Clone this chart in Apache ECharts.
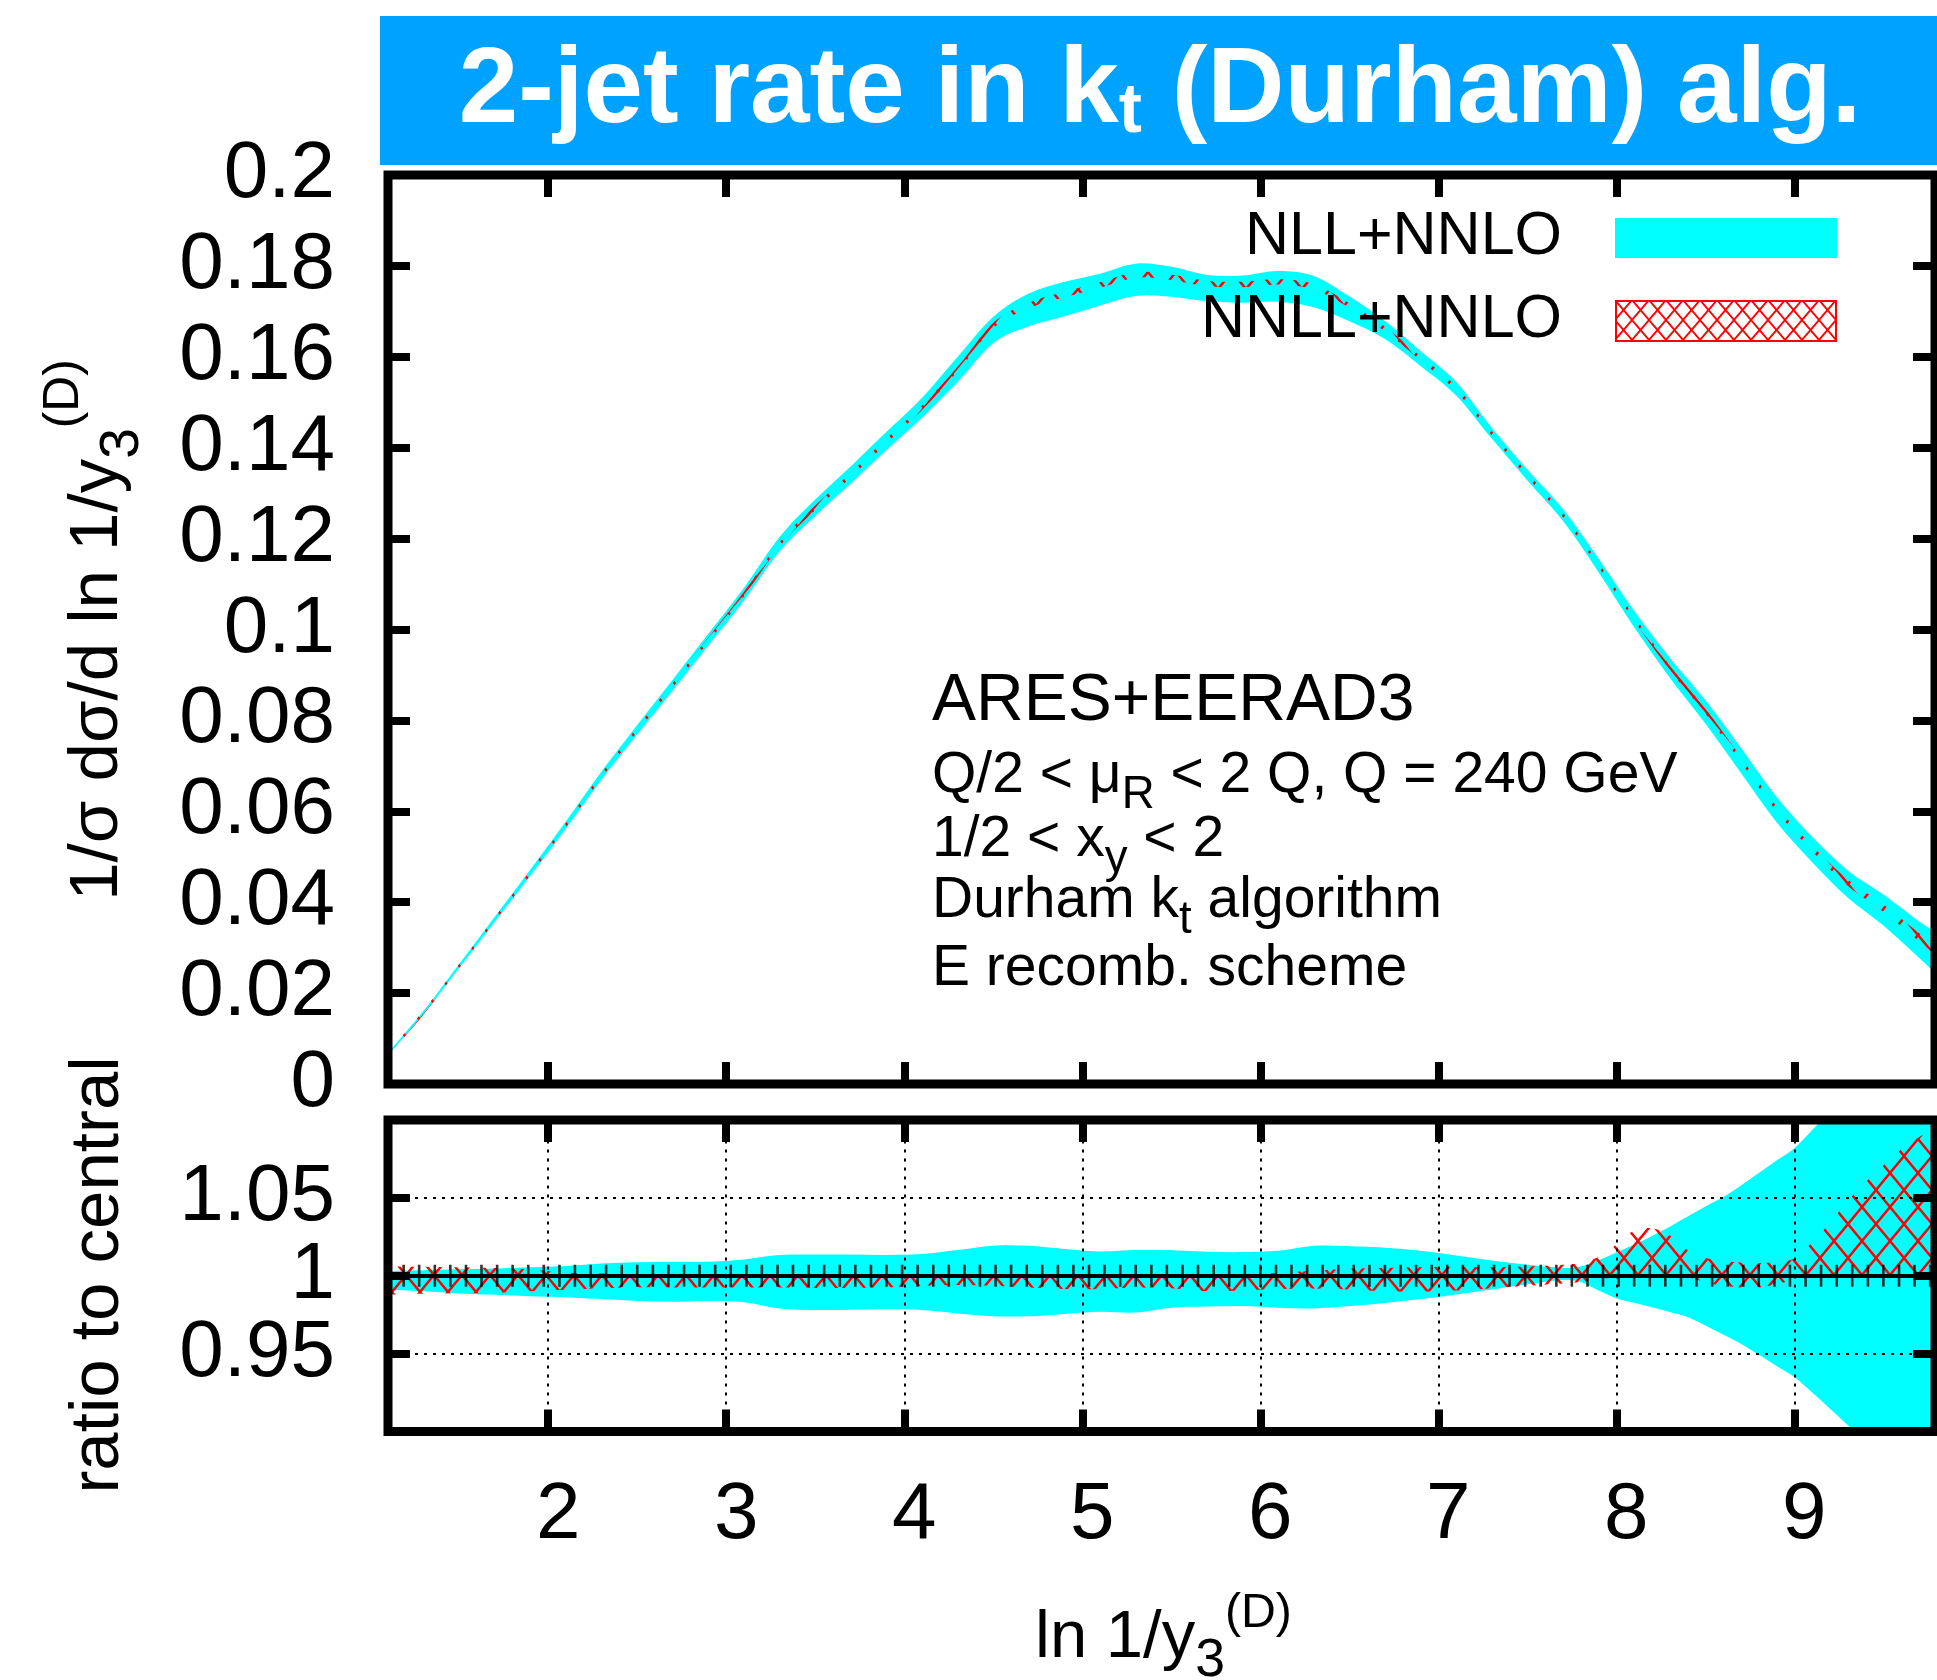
<!DOCTYPE html>
<html>
<head>
<meta charset="utf-8">
<script src="https://cdn.jsdelivr.net/npm/echarts@6/dist/echarts.min.js"></script>
<style>
  html, body { margin: 0; padding: 0; background: #fff; }
  #main { width: 1937px; height: 1680px; }
</style>
</head>
<body>
<div id="main"></div>
<script>
// ---- data ----
// upper panel: 1/sigma dsigma/d ln 1/y3 bands
const xTop = [1.1, 1.3, 1.5, 1.7, 1.9, 2.1, 2.3, 2.5, 2.7, 2.9, 3.1, 3.3, 3.5, 3.7, 3.9, 4.1, 4.3, 4.5, 4.7, 4.9,
  5.1, 5.3, 5.5, 5.7, 5.9, 6.1, 6.3, 6.5, 6.7, 6.9, 7.1, 7.3, 7.5, 7.7, 7.9, 8.1, 8.3, 8.5, 8.7, 8.9,
  9.1, 9.3, 9.5, 9.7, 9.79];
const nllTopLo = [0.0063, 0.0154, 0.0255, 0.0357, 0.0458, 0.0562, 0.0670, 0.0769, 0.0866, 0.0965, 0.1064, 0.1172,
  0.1250, 0.1321, 0.1395, 0.1466, 0.1545, 0.1630, 0.1667, 0.1689, 0.1713, 0.1734, 0.1732, 0.1722, 0.1719,
  0.1721, 0.1709, 0.1678, 0.1639, 0.1580, 0.1515, 0.1420, 0.1328, 0.1239, 0.1126, 0.1005, 0.0894, 0.0793,
  0.0684, 0.0576, 0.0488, 0.0410, 0.0349, 0.0278, 0.0245];
const nllTopHi = [0.0068, 0.0161, 0.0264, 0.0368, 0.0472, 0.0578, 0.0688, 0.0790, 0.0890, 0.0991, 0.1092, 0.1204,
  0.1286, 0.1359, 0.1435, 0.1510, 0.1600, 0.1688, 0.1739, 0.1765, 0.1783, 0.1805, 0.1798, 0.1780, 0.1779,
  0.1789, 0.1778, 0.1733, 0.1679, 0.1613, 0.1545, 0.1444, 0.1352, 0.1265, 0.1156, 0.1041, 0.0938, 0.0845,
  0.0740, 0.0632, 0.0544, 0.0470, 0.0417, 0.0358, 0.0335];
const nnllTopLo = [0.0062, 0.0153, 0.0255, 0.0358, 0.0460, 0.0565, 0.0674, 0.0775, 0.0873, 0.0973, 0.1073, 0.1183,
  0.1263, 0.1335, 0.1410, 0.1483, 0.1568, 0.1663, 0.1707, 0.1731, 0.1752, 0.1774, 0.1769, 0.1755, 0.1753,
  0.1759, 0.1748, 0.1708, 0.1656, 0.1592, 0.1525, 0.1427, 0.1335, 0.1247, 0.1137, 0.1019, 0.0911, 0.0815,
  0.0708, 0.0600, 0.0512, 0.0436, 0.0379, 0.0314, 0.0285];
const nnllTopHi = [0.0069, 0.0162, 0.0264, 0.0367, 0.0470, 0.0575, 0.0684, 0.0785, 0.0883, 0.0983, 0.1083, 0.1193,
  0.1273, 0.1345, 0.1420, 0.1493, 0.1578, 0.1675, 0.1719, 0.1743, 0.1764, 0.1786, 0.1781, 0.1767, 0.1765,
  0.1771, 0.1760, 0.1718, 0.1666, 0.1601, 0.1535, 0.1437, 0.1345, 0.1257, 0.1147, 0.1029, 0.0921, 0.0826,
  0.0719, 0.0611, 0.0524, 0.0450, 0.0395, 0.0332, 0.0305];

// lower panel: ratio to central
const xRatio = [1.1, 1.3, 1.5, 1.7, 1.9, 2.1, 2.3, 2.5, 2.7, 2.9, 3.1, 3.3, 3.5, 3.7, 3.9, 4.1, 4.3, 4.5, 4.7, 4.9,
  5.1, 5.3, 5.5, 5.7, 5.9, 6.1, 6.3, 6.5, 6.7, 6.9, 7.1, 7.3, 7.5, 7.7, 7.8, 7.9, 8.0, 8.1, 8.2, 8.3,
  8.4, 8.5, 8.6, 8.7, 8.8, 8.9, 9.0, 9.1, 9.2, 9.3, 9.4, 9.5, 9.6, 9.7, 9.79];
const nllRatioHi = [1.0030, 1.0035, 1.0041, 1.0047, 1.0055, 1.0063, 1.0078, 1.0086, 1.0090, 1.0090, 1.0105, 1.0133,
  1.0137, 1.0136, 1.0134, 1.0140, 1.0165, 1.0193, 1.0192, 1.0172, 1.0156, 1.0165, 1.0163, 1.0154, 1.0152,
  1.0160, 1.0193, 1.0190, 1.0180, 1.0160, 1.0130, 1.0098, 1.0070, 1.0050, 1.0060, 1.0100, 1.0150, 1.0200,
  1.0255, 1.0315, 1.0380, 1.0445, 1.0505, 1.0580, 1.0660, 1.0740, 1.0818, 1.0935, 1.1050, 1.1160, 1.1270,
  1.1380, 1.1490, 1.1600, 1.1700];
const nllRatioLo = [0.9910, 0.9900, 0.9886, 0.9878, 0.9868, 0.9862, 0.9850, 0.9838, 0.9833, 0.9838, 0.9830, 0.9790,
  0.9780, 0.9782, 0.9785, 0.9780, 0.9758, 0.9740, 0.9740, 0.9755, 0.9769, 0.9764, 0.9795, 0.9802, 0.9805,
  0.9795, 0.9790, 0.9805, 0.9825, 0.9850, 0.9880, 0.9912, 0.9945, 0.9972, 0.9960, 0.9905, 0.9856, 0.9826,
  0.9797, 0.9767, 0.9735, 0.9680, 0.9622, 0.9563, 0.9492, 0.9421, 0.9350, 0.9250, 0.9146, 0.9040, 0.8920,
  0.8800, 0.8680, 0.8560, 0.8450];
const nnllRatioHi = [1.0060, 1.0058, 1.0055, 1.0050, 1.0040, 1.0020, 1.0015, 1.0005, 1.0000, 0.9998, 0.9995, 0.9995,
  0.9995, 0.9995, 0.9995, 0.9995, 0.9995, 0.9995, 0.9998, 1.0005, 1.0010, 1.0005, 0.9998, 0.9995, 1.0000,
  1.0020, 1.0030, 1.0045, 1.0050, 1.0055, 1.0058, 1.0055, 1.0060, 1.0070, 1.0085, 1.0120, 1.0200, 1.0290,
  1.0305, 1.0260, 1.0165, 1.0115, 1.0095, 1.0085, 1.0080, 1.0090, 1.0110, 1.0215, 1.0340, 1.0480, 1.0600,
  1.0710, 1.0810, 1.0890, 1.0935];
const nnllRatioLo = [0.9880, 0.9885, 0.9888, 0.9890, 0.9900, 0.9910, 0.9920, 0.9925, 0.9925, 0.9925, 0.9925, 0.9925,
  0.9922, 0.9922, 0.9925, 0.9935, 0.9940, 0.9935, 0.9925, 0.9915, 0.9915, 0.9925, 0.9920, 0.9900, 0.9905,
  0.9915, 0.9918, 0.9912, 0.9900, 0.9898, 0.9905, 0.9920, 0.9935, 0.9950, 0.9960, 0.9975, 0.9990, 1.0000,
  1.0000, 1.0000, 0.9990, 0.9960, 0.9935, 0.9925, 0.9925, 0.9945, 0.9975, 0.9995, 1.0000, 1.0000, 1.0000,
  1.0000, 1.0000, 1.0000, 1.0000];

// points of the central curve (drawn as + markers on the ratio = 1 line)
const xPts = [1.100, 1.188, 1.275, 1.363, 1.450, 1.538, 1.625, 1.713, 1.800, 1.888, 1.975, 2.063, 2.150, 2.238,
  2.325, 2.413, 2.500, 2.588, 2.675, 2.763, 2.850, 2.938, 3.025, 3.113, 3.200, 3.288, 3.375, 3.463, 3.550,
  3.638, 3.725, 3.813, 3.900, 3.988, 4.075, 4.163, 4.250, 4.338, 4.425, 4.513, 4.600, 4.688, 4.775, 4.863,
  4.950, 5.038, 5.125, 5.213, 5.300, 5.388, 5.475, 5.563, 5.650, 5.738, 5.825, 5.913, 6.000, 6.088, 6.175,
  6.263, 6.350, 6.438, 6.525, 6.613, 6.700, 6.788, 6.875, 6.963, 7.050, 7.138, 7.225, 7.313, 7.400, 7.488,
  7.575, 7.663, 7.750, 7.838, 7.925, 8.013, 8.100, 8.188, 8.275, 8.363, 8.450, 8.538, 8.625, 8.713, 8.800,
  8.888, 8.975, 9.063, 9.150, 9.238, 9.325, 9.413, 9.500, 9.588, 9.675, 9.763];

const xTicks = [2, 3, 4, 5, 6, 7, 8, 9];
const ratioGrid = [0.95, 1.05];

const FONT = '"Liberation Sans", Arial, sans-serif';
const CYAN = '#00ffff';
const RED = '#ff0000';

// crosshatch tile for the NNLL band
function hatch(w, h, lw) {
  const c = document.createElement('canvas');
  c.width = w; c.height = h;
  const g = c.getContext('2d');
  g.strokeStyle = RED;
  g.lineWidth = lw;
  g.beginPath();
  g.moveTo(0, 0); g.lineTo(w, h);
  g.moveTo(w, 0); g.lineTo(0, h);
  g.stroke();
  return c;
}
const hatchPlot = { image: hatch(28, 34, 2.4), repeat: 'repeat' };
const hatchKey = { image: hatch(17, 20, 1.8), repeat: 'repeat' };

// smooth path (catmull-rom as cubic beziers) through screen points
function curve(pts, start) {
  let d = (start ? 'M' : 'L') + pts[0][0] + ',' + pts[0][1];
  for (let i = 0; i < pts.length - 1; i++) {
    const p0 = pts[Math.max(i - 1, 0)], p1 = pts[i], p2 = pts[i + 1], p3 = pts[Math.min(i + 2, pts.length - 1)];
    const c1 = [p1[0] + (p2[0] - p0[0]) / 6, p1[1] + (p2[1] - p0[1]) / 6];
    const c2 = [p2[0] - (p3[0] - p1[0]) / 6, p2[1] - (p3[1] - p1[1]) / 6];
    d += 'C' + c1[0] + ',' + c1[1] + ' ' + c2[0] + ',' + c2[1] + ' ' + p2[0] + ',' + p2[1];
  }
  return d;
}

// band between lo and hi, drawn as one filled shape
function band(name, xs, lo, hi, axis, fill, z) {
  return {
    type: 'custom', name: name, coordinateSystem: 'cartesian2d', xAxisIndex: axis, yAxisIndex: axis,
    clip: true, silent: true, z: z,
    data: xs.map((x, i) => [x, lo[i], hi[i]]),
    encode: { x: 0, y: [1, 2] },
    renderItem: function (params, api) {
      if (params.dataIndex !== 0) return null;
      const up = xs.map((x, i) => api.coord([x, hi[i]]));
      const dn = xs.map((x, i) => api.coord([x, lo[i]])).reverse();
      return {
        type: 'path',
        shape: { pathData: curve(up, true) + curve(dn, false) + 'Z' },
        style: { fill: fill, stroke: null }
      };
    }
  };
}

// text with sub/superscripts, laid out with measured widths
const mctx = document.createElement('canvas').getContext('2d');
function tw(s, size, weight) {
  mctx.font = (weight || 'normal') + ' ' + size + 'px ' + FONT;
  return mctx.measureText(s).width;
}
function run(parts, size, opt) {
  opt = opt || {};
  let cx = 0;
  const els = [];
  parts.forEach(function (p) {
    const fs = p.k ? size * p.k : size;
    const y = 0.3465 * size + (p.dy || 0) - 0.3465 * fs;
    els.push({
      type: 'text', x: cx, y: y, z: 30,
      style: {
        text: p.t, fill: opt.color || '#000', align: 'left', verticalAlign: 'middle',
        font: (opt.weight || 'normal') + ' ' + fs + 'px ' + FONT
      }
    });
    cx += tw(p.t, fs, opt.weight);
  });
  return { els: els, width: cx };
}
function textGroup(parts, size, x, y, opt) {
  opt = opt || {};
  const r = run(parts, size, opt);
  let gx = x, gy = y;
  if (opt.center && !opt.rotate) gx = x - r.width / 2;
  if (opt.center && opt.rotate) gy = y + r.width / 2;
  if (opt.right) gx = x - r.width;
  return { type: 'group', x: gx, y: gy, rotation: opt.rotate ? Math.PI / 2 : 0, z: 30, children: r.els };
}

const tickStyle = { inside: true, length: 22, lineStyle: { color: '#000', width: 8 } };
function xAx(grid, pos, labels) {
  return {
    type: 'value', gridIndex: grid, position: pos, min: 1.1, max: 9.79, z: 15,
    axisLine: { show: false, onZero: false }, splitLine: { show: false },
    axisTick: Object.assign({ customValues: xTicks }, tickStyle),
    axisLabel: labels ? {
      customValues: xTicks, fontSize: 80, fontFamily: FONT, color: '#000', margin: 44,
      padding: [0, 0, 0, 20]
    } : { show: false }
  };
}
function yAx(grid, pos, min, max, step, labels, hideEnds) {
  return {
    type: 'value', gridIndex: grid, position: pos, min: min, max: max, interval: step, z: 15,
    axisLine: { show: false, onZero: false }, splitLine: { show: false }, axisTick: tickStyle,
    axisLabel: labels ? {
      fontSize: 80, fontFamily: FONT, color: '#000', margin: 53,
      showMinLabel: !hideEnds, showMaxLabel: !hideEnds
    } : { show: false }
  };
}

const gridLine = { type: [3, 6], width: 2, color: '#000' };
const markers = {
  type: 'scatter', xAxisIndex: 2, yAxisIndex: 2, silent: true, z: 6,
  data: xPts.map(x => [x, 1]), symbol: 'rect', symbolSize: [2.6, 22],
  itemStyle: { color: '#000' },
  markLine: {
    silent: true, symbol: ['none', 'none'], label: { show: false }, animation: false,
    data: xTicks.map(v => ({ xAxis: v, lineStyle: gridLine }))
      .concat(ratioGrid.map(v => ({ yAxis: v, lineStyle: gridLine })))
      .concat([{ yAxis: 1, lineStyle: { type: 'solid', width: 4, color: '#000' } }])
  }
};

const graphics = [
  { type: 'rect', z: 1, shape: { x: 380, y: 16, width: 1557, height: 149 }, style: { fill: '#00a2ff' } },
  textGroup([{ t: '2-jet rate in k' }, { t: 't', k: 0.65, dy: 8 }, { t: ' (Durham) alg.' }], 107, 1160, 92,
    { center: true, color: '#fff', weight: 'bold' }),
  // legend
  textGroup([{ t: 'NLL+NNLO' }], 61, 1562, 237, { right: true }),
  { type: 'rect', z: 30, shape: { x: 1615, y: 218, width: 222, height: 40 }, style: { fill: CYAN } },
  textGroup([{ t: 'NNLL+NNLO' }], 61, 1562, 320, { right: true }),
  {
    type: 'rect', z: 30, shape: { x: 1616, y: 301, width: 220, height: 40 },
    style: { fill: hatchKey, stroke: RED, lineWidth: 2 }
  },
  // annotation
  textGroup([{ t: 'ARES+EERAD3' }], 66, 932, 702),
  textGroup([{ t: 'Q/2 < \u03bc' }, { t: 'R', k: 0.8, dy: 15 }, { t: ' < 2 Q, Q = 240 GeV' }], 57, 932, 776),
  textGroup([{ t: '1/2 < x' }, { t: 'y', k: 0.8, dy: 15 }, { t: ' < 2' }], 57, 932, 840),
  textGroup([{ t: 'Durham k' }, { t: 't', k: 0.8, dy: 15 }, { t: ' algorithm' }], 57, 932, 901),
  textGroup([{ t: 'E recomb. scheme' }], 57, 932, 969),
  // axis titles
  textGroup([{ t: '1/\u03c3 d\u03c3/d ln 1/y' }, { t: '3', k: 0.8, dy: 20 }, { t: '(D)', k: 0.72, dy: -40 }],
    69, 98, 630, { rotate: true, center: true }),
  textGroup([{ t: 'ratio to central' }], 69, 99, 1275, { rotate: true, center: true }),
  textGroup([{ t: 'ln 1/y' }, { t: '3', k: 0.8, dy: 18 }, { t: '(D)', k: 0.72, dy: -32 }], 67, 1035, 1639)
];

const option = {
  animation: false,
  backgroundColor: '#fff',
  grid: [
    { left: 388, top: 175, width: 1547, height: 909, show: true, backgroundColor: 'transparent',
      borderColor: '#000', borderWidth: 9, z: 20 },
    { left: 388, top: 1120, width: 1547, height: 311.5, show: true, backgroundColor: 'transparent',
      borderColor: '#000', borderWidth: 9, z: 20 }
  ],
  xAxis: [xAx(0, 'bottom', false), xAx(0, 'top', false), xAx(1, 'bottom', true), xAx(1, 'top', false)],
  yAxis: [
    yAx(0, 'left', 0, 0.2, 0.02, true, false), yAx(0, 'right', 0, 0.2, 0.02, false, false),
    yAx(1, 'left', 0.9, 1.1, 0.05, true, true), yAx(1, 'right', 0.9, 1.1, 0.05, false, true)
  ],
  series: [
    band('nllTop', xTop, nllTopLo, nllTopHi, 0, CYAN, 2),
    band('nnllTop', xTop, nnllTopLo, nnllTopHi, 0, hatchPlot, 3),
    band('nllRatio', xRatio, nllRatioLo, nllRatioHi, 2, CYAN, 2),
    band('nnllRatio', xRatio, nnllRatioLo, nnllRatioHi, 2, hatchPlot, 3),
    markers
  ],
  graphic: { elements: graphics }
};

const chart = echarts.init(document.getElementById('main'), null, { renderer: 'canvas' });
chart.setOption(option);
</script>
</body>
</html>
